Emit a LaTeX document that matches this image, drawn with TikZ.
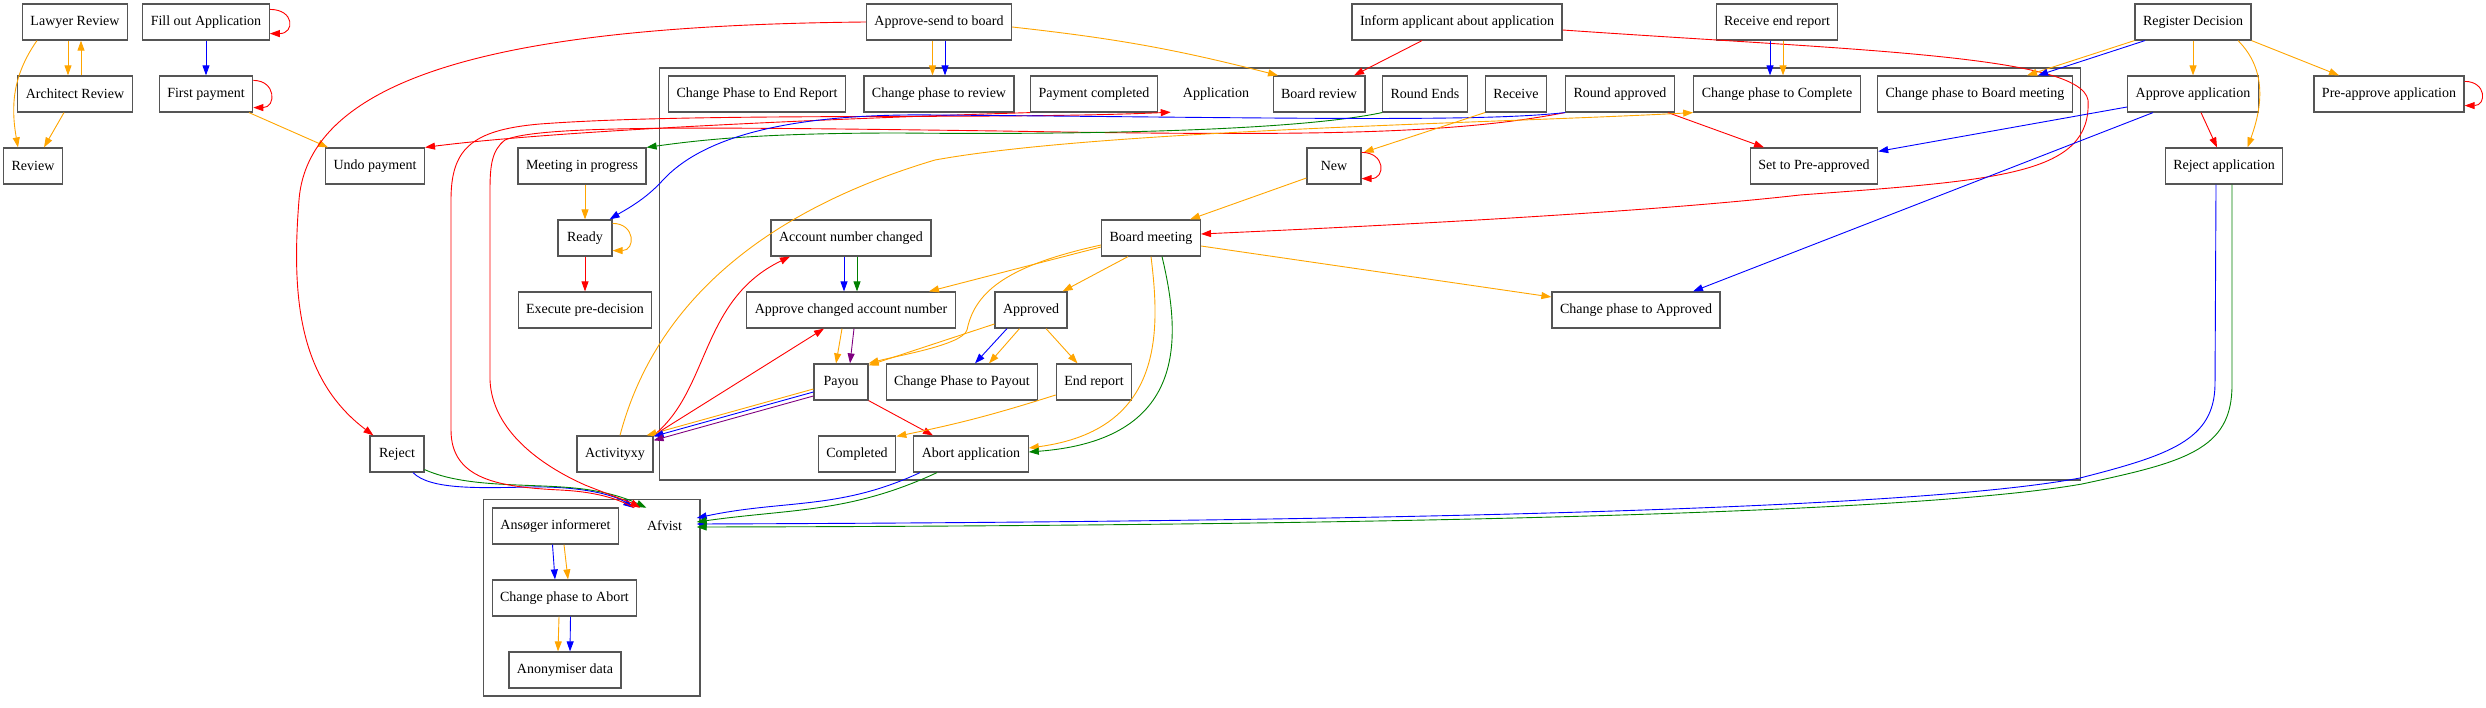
\documentclass[tikz,border=0pt]{standalone}
\usepackage{fontspec}
\setmainfont{Liberation Serif}
\usetikzlibrary{arrows.meta}
\begin{document}
\begin{tikzpicture}[x=1pt,y=-1pt,
  every node/.style={font=\fontsize{14}{16}\selectfont},
  box/.style={draw={rgb,255:red,85;green,85;blue,85}, line width=1.2pt, minimum width=54pt, minimum height=36pt, inner xsep=8pt, inner ysep=0pt},
  plain/.style={minimum width=54pt, minimum height=36pt, inner xsep=8pt, inner ysep=0pt},
  clu/.style={draw={rgb,255:red,85;green,85;blue,85}, line width=1.2pt},
  edge/.style={-{Triangle[length=10pt,width=7pt]}, line width=0.9pt},
  redge/.style={edge, color={rgb,255:red,255;green,0;blue,0}},
  bedge/.style={edge, color={rgb,255:red,0;green,0;blue,255}},
  oedge/.style={edge, color={rgb,255:red,255;green,165;blue,0}},
  gedge/.style={edge, color={rgb,255:red,0;green,128;blue,0}},
  pedge/.style={edge, color={rgb,255:red,128;green,0;blue,128}}]
\useasboundingbox (0,0) rectangle (2486,708);
\draw[clu] (659.6,68) rectangle (2080.5,480);
\draw[clu] (483.7,499.3) rectangle (700,696);
\node[box] (lawyer) at (75,22) {Lawyer Review};
\node[box] (fillout) at (206,22) {Fill out Application};
\node[box] (architect) at (75,94) {Architect Review};
\node[box] (firstpay) at (206,94) {First payment};
\node[box] (review) at (33,166) {Review};
\node[box] (undopay) at (375,166) {Undo payment};
\node[box] (meeting) at (582,166) {Meeting in progress};
\node[box] (ready) at (585,238) {Ready};
\node[box] (execpre) at (585,310) {Execute pre-decision};
\node[box] (reject) at (397,454) {Reject};
\node[box] (activity) at (615,454) {Activityxy};
\node[box] (sendboard) at (939,22) {Approve-send to board};
\node[box] (inform) at (1457,22) {Inform applicant about application};
\node[box] (receiveend) at (1777,22) {Receive end report};
\node[box] (register) at (2193,22) {Register Decision};
\node[box] (phaseend) at (757,94) {Change Phase to End Report};
\node[box] (phasereview) at (939,94) {Change phase to review};
\node[box] (paydone) at (1094,94) {Payment completed};
\node[plain] (application) at (1216,94) {Application};
\node[box] (boardreview) at (1319,94) {Board review};
\node[box] (roundends) at (1425,94) {Round Ends};
\node[box] (receive) at (1516,94) {Receive};
\node[box] (roundok) at (1620,94) {Round approved};
\node[box] (phasecomplete) at (1777,94) {Change phase to Complete};
\node[box] (phaseboard) at (1975,94) {Change phase to Board meeting};
\node[box] (approveapp) at (2193,94) {Approve application};
\node[box] (preapprove) at (2389,94) {Pre-approve application};
\node[box] (rejectapp) at (2224,166) {Reject application};
\node[box] (new) at (1334,166) {New};
\node[box] (setpre) at (1814,166) {Set to Pre-approved};
\node[box] (accchanged) at (851,238) {Account number changed};
\node[box] (boardmeet) at (1151,238) {Board meeting};
\node[box] (accapprove) at (851,310) {Approve changed account number};
\node[box] (approved) at (1031,310) {Approved};
\node[box] (phaseapproved) at (1636,310) {Change phase to Approved};
\node[box] (payou) at (841,382) {Payou};
\node[box] (phasepayout) at (962,382) {Change Phase to Payout};
\node[box] (endreport) at (1094,382) {End report};
\node[box] (completed) at (857,454) {Completed};
\node[box] (abort) at (971,454) {Abort application};
\node[box] (ansoger) at (555.5,526) {Ansøger informeret};
\node[plain, minimum width=64pt] (afvist) at (664.5,526) {Afvist};
\node[box] (phaseabort) at (564.5,598) {Change phase to Abort};
\node[box] (anonym) at (565,670) {Anonymiser data};
\draw[oedge] ([xshift=-38pt]lawyer.south) to[out=235,in=100] ([xshift=-15pt]review.north);
\draw[oedge] ([xshift=-7pt]lawyer.south) -- ([xshift=-7pt]architect.north);
\draw[oedge] ([xshift=6pt]architect.north) -- ([xshift=6pt]lawyer.south);
\draw[oedge] ([xshift=-11pt]architect.south) -- ([xshift=11pt]review.north);
\draw[redge] ([yshift=-6pt]fillout.north east) .. controls +(25,0) and +(25,0) .. ([yshift=7pt]fillout.south east);
\draw[bedge] (fillout.south) -- (firstpay.north);
\draw[redge] ([yshift=-5pt]firstpay.north east) .. controls +(23,0) and +(23,0) .. ([yshift=5pt]firstpay.south east);
\draw[oedge] ([xshift=43pt]firstpay.south) -- ([xshift=-47pt]undopay.north);
\draw[redge] (sendboard.west) .. controls (560,25) and (310,60) .. (299,200) .. controls (291,300) and (300,380) .. ([xshift=4pt]reject.north west);
\draw[oedge] ([xshift=-6.5pt]sendboard.south) -- ([xshift=-6.5pt]phasereview.north);
\draw[bedge] ([xshift=6pt]sendboard.south) -- ([xshift=6pt]phasereview.north);
\draw[oedge] ([yshift=-5pt]sendboard.east) to[bend left=4] ([xshift=-41pt]boardreview.north);
\draw[redge] ([xshift=-35pt]inform.south) -- ([xshift=35pt]boardreview.north);
\draw[redge] ([yshift=-8pt]inform.east) .. controls (1850,50) and (2080,55) .. (2088,100) .. controls (2092,175) and (2000,180) .. (1800,195) .. controls (1650,212) and (1400,225) .. ([yshift=4pt]boardmeet.east);
\draw[bedge] ([xshift=-7pt]receiveend.south) -- ([xshift=-7pt]phasecomplete.north);
\draw[oedge] ([xshift=6pt]receiveend.south) -- ([xshift=6pt]phasecomplete.north);
\draw[oedge] (register.south west) -- ([xshift=52pt]phaseboard.north);
\draw[bedge] ([xshift=-48pt]register.south) -- ([xshift=63pt]phaseboard.north);
\draw[oedge] (register.south) -- (approveapp.north);
\draw[oedge] ([xshift=45pt]register.south) to[out=-45,in=70] ([xshift=23.5pt]rejectapp.north);
\draw[oedge] (register.south east) -- ([xshift=-50pt]preapprove.north);
\draw[redge] ([yshift=-6pt]preapprove.north east) .. controls +(22,0) and +(22,0) .. ([yshift=7pt]preapprove.south east);
\draw[redge] ([xshift=8pt]approveapp.south) -- ([xshift=-7pt]rejectapp.north);
\draw[bedge] ([yshift=-13pt]approveapp.west) -- ([yshift=-4pt]setpre.north east);
\draw[bedge] ([xshift=-40pt]approveapp.south) -- ([xshift=57pt]phaseapproved.north);
\draw[bedge] ([xshift=-8pt]rejectapp.south) -- (2215,385) .. controls (2214,440) and (2170,455) .. (2080,478) .. controls (1900,512) and (1300,522) .. ([yshift=2pt]afvist.east);
\draw[gedge] ([xshift=8pt]rejectapp.south) -- (2232,385) .. controls (2232,450) and (2185,462) .. (2082,484) .. controls (1900,516) and (1300,526) .. ([yshift=-1pt]afvist.east);
\draw[bedge] ([xshift=-51pt]abort.south) to[out=-155,in=12] ([yshift=8pt]afvist.east);
\draw[gedge] ([xshift=-34pt]abort.south) to[out=-155,in=8] ([yshift=4pt]afvist.east);
\draw[bedge] ([xshift=16pt]reject.south) .. controls (430,490) and (480,488) .. (530,487) .. controls (580,486) and (615,495) .. ([xshift=1pt]afvist.north west);
\draw[gedge] ([yshift=3pt]reject.south east) .. controls (470,490) and (540,482) .. (590,490) .. controls (615,494) and (630,500) .. ([xshift=14pt]afvist.north west);
\draw[redge] ([xshift=2pt]afvist.north west) .. controls (620,500) and (600,492) .. (560,490) .. controls (500,487) and (451,480) .. (451,430) -- (451,200) .. controls (451,150) and (470,130) .. (540,124) .. controls (700,112) and (1000,120) .. ([xshift=-4pt]application.south west);
\draw[redge] (roundok.south west) .. controls (1450,135) and (1300,136) .. (1000,131) .. controls (700,127) and (540,125) .. (505,140) .. controls (492,150) and (490,165) .. (490,190) -- (490,380) .. controls (492,430) and (540,465) .. (585,485) .. controls (610,495) and (630,502) .. ([xshift=8pt]afvist.north west);
\draw[redge] (paydone.south west) .. controls (850,118) and (560,130) .. (undopay.north east);
\draw[gedge] (roundends.south west) .. controls (1300,130) and (1100,135) .. (900,133) .. controls (760,133) and (700,140) .. (meeting.north east);
\draw[bedge] (roundok.south west) .. controls (1480,122) and (1300,118) .. (935,115) .. controls (780,113) and (700,140) .. (663,180) .. controls (645,200) and (625,210) .. ([xshift=-3pt]ready.north east);
\draw[oedge] (receive.south west) -- ([xshift=2pt,yshift=-5pt]new.north east);
\draw[redge] ([yshift=-5pt]new.north east) .. controls +(24,0) and +(24,0) .. ([yshift=6pt]new.south east);
\draw[oedge] ([yshift=-12pt]new.west) -- ([xshift=39pt]boardmeet.north);
\draw[redge] ([xshift=48pt]roundok.south) -- ([xshift=-50pt]setpre.north);
\draw[oedge] ([xshift=5pt]activity.north) .. controls (640,360) and (700,230) .. (935,160) .. controls (1100,130) and (1500,123) .. (phasecomplete.south west);
\draw[oedge] (ready.north |- meeting.south) -- (ready.north);
\draw[oedge] ([yshift=-4pt]ready.north east) .. controls +(23,0) and +(23,0) .. ([yshift=6pt]ready.south east);
\draw[redge] (ready.south) -- (execpre.north);
\draw[redge] (activity.north east) .. controls (710,390) and (700,300) .. ([xshift=-61pt]accchanged.south);
\draw[redge] (activity.north east) -- ([xshift=-27pt]accapprove.south);
\draw[oedge] ([yshift=-7pt]payou.west) -- ([xshift=-7pt]activity.north east);
\draw[bedge] ([yshift=-10pt]payou.west) -- ([yshift=-1pt]activity.north east);
\draw[pedge] ([yshift=-14pt]payou.west) -- ([yshift=-5pt]activity.north east);
\draw[bedge] ([xshift=-7pt]accchanged.south) -- ([xshift=-7pt]accapprove.north);
\draw[gedge] ([xshift=6pt]accchanged.south) -- ([xshift=6pt]accapprove.north);
\draw[oedge] ([xshift=-9pt]accapprove.south) -- ([xshift=-5pt]payou.north);
\draw[pedge] ([xshift=3pt]accapprove.south) -- ([xshift=9pt]payou.north);
\draw[oedge] ([yshift=-9pt]boardmeet.west) -- ([xshift=78pt]accapprove.north);
\draw[oedge] ([yshift=-7pt]boardmeet.west) .. controls (1010,265) and (975,290) .. (967,330) .. controls (962,345) and (900,355) .. (payou.north east);
\draw[oedge] ([yshift=-14pt]approved.west) -- ([yshift=-2pt]payou.north east);
\draw[redge] (payou.south east) -- ([xshift=-38pt]abort.north);
\draw[bedge] ([xshift=-24pt]approved.south) -- ([xshift=13pt]phasepayout.north);
\draw[oedge] ([xshift=-11.5pt]approved.south) -- ([xshift=27pt]phasepayout.north);
\draw[oedge] ([xshift=15pt]approved.south) -- ([xshift=-16.5pt]endreport.north);
\draw[oedge] ([yshift=-13pt]endreport.west) to[bend left=3] ([yshift=-1pt]completed.north east);
\draw[oedge] ([xshift=-23pt]boardmeet.south) -- ([xshift=-5pt]approved.north east);
\draw[oedge] (boardmeet.south) .. controls (1160,330) and (1165,430) .. ([yshift=6pt]abort.east);
\draw[gedge] ([xshift=11pt]boardmeet.south) .. controls (1182,340) and (1187,440) .. ([yshift=2pt]abort.east);
\draw[oedge] ([yshift=-8pt]boardmeet.east) -- ([yshift=13pt]phaseapproved.west);
\draw[bedge] ([xshift=-3pt]ansoger.south) -- ([xshift=-9.5pt]phaseabort.north);
\draw[oedge] ([xshift=8.5pt]ansoger.south) -- ([xshift=3.5pt]phaseabort.north);
\draw[oedge] ([xshift=-5.5pt]phaseabort.south) -- ([xshift=-7pt]anonym.north);
\draw[bedge] ([xshift=6pt]phaseabort.south) -- ([xshift=5pt]anonym.north);
\end{tikzpicture}
\end{document}
